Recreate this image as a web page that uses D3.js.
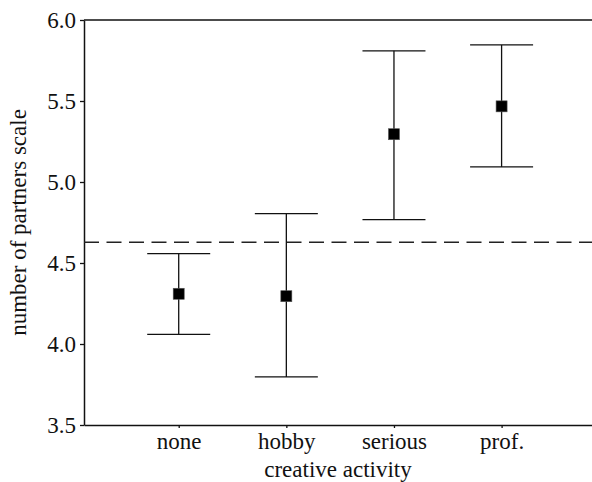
<!DOCTYPE html>
<html>
<head>
<meta charset="utf-8">
<script src="https://cdn.jsdelivr.net/npm/d3@7"></script>
<style>
  body { margin: 0; background: #fff; }
</style>
</head>
<body>
<div id="chart"></div>
<script>
const categories = ["none", "hobby", "serious", "prof."];
const means = [4.31, 4.295, 5.295, 5.467];
const upper = [4.558, 4.805, 5.81, 5.846];
const lower = [4.06, 3.797, 4.768, 5.093];
const reference = 4.628;
const yTicks = [3.5, 4.0, 4.5, 5.0, 5.5, 6.0];

const serif = "Liberation Serif, DejaVu Serif, serif";
const width = 592;
const height = 482;
const margin = {top: 20, right: 0, bottom: 57, left: 84};
const chartWidth = width - margin.left - margin.right;
const chartHeight = height - margin.top - margin.bottom;

const svg = d3.select("#chart").append("svg").attr("width", width).attr("height", height);
const g = svg.append("g").attr("transform", `translate(${margin.left},${margin.top})`);

const x_scale = d3.scaleLinear().domain([-0.88, 3.84]).range([0, chartWidth]);
const y_scale = d3.scaleLinear().domain([3.5, 6.0]).range([chartHeight, 0]);

// frame top line
g.append("line")
    .attr("x1", 0).attr("x2", chartWidth)
    .attr("y1", 0).attr("y2", 0)
    .attr("stroke", "#111").attr("stroke-width", 1.5);

// axes
const y_axis = d3.axisLeft(y_scale).tickValues(yTicks).tickFormat(d3.format(".1f")).tickSize(4).tickSizeOuter(0);
const yg = g.append("g").call(y_axis).attr("font-family", serif).attr("font-size", 23);
yg.select(".domain").attr("stroke", "#111").attr("stroke-width", 1.5);
yg.selectAll(".tick line").attr("stroke", "#111").attr("stroke-width", 1.3);
yg.selectAll(".tick text").attr("x", -8).attr("dy", "0.34em").attr("fill", "#111");

const x_axis = d3.axisBottom(x_scale).tickValues(d3.range(categories.length))
    .tickFormat(i => categories[i]).tickSize(3).tickSizeOuter(0);
const xg = g.append("g").attr("transform", `translate(0,${chartHeight})`).call(x_axis)
    .attr("font-family", serif).attr("font-size", 23);
xg.select(".domain").attr("stroke", "#111").attr("stroke-width", 1.5);
xg.selectAll(".tick line").attr("stroke", "#111").attr("stroke-width", 1.3);
xg.selectAll(".tick text").attr("y", 8).attr("fill", "#111");

// reference dashed line
g.append("line")
    .attr("x1", 0).attr("x2", chartWidth)
    .attr("y1", y_scale(reference)).attr("y2", y_scale(reference))
    .attr("stroke", "#222").attr("stroke-width", 1.3)
    .attr("stroke-dasharray", "15,7.5");

// error bars
const capHalf = 31.5;
const bars = g.selectAll(".bar").data(categories).enter().append("g").attr("class", "bar");
bars.append("line")
    .attr("x1", (d, i) => x_scale(i)).attr("x2", (d, i) => x_scale(i))
    .attr("y1", (d, i) => y_scale(upper[i])).attr("y2", (d, i) => y_scale(lower[i]))
    .attr("stroke", "#111").attr("stroke-width", 1.3);
bars.append("line")
    .attr("x1", (d, i) => x_scale(i) - capHalf).attr("x2", (d, i) => x_scale(i) + capHalf)
    .attr("y1", (d, i) => y_scale(upper[i])).attr("y2", (d, i) => y_scale(upper[i]))
    .attr("stroke", "#111").attr("stroke-width", 1.3);
bars.append("line")
    .attr("x1", (d, i) => x_scale(i) - capHalf).attr("x2", (d, i) => x_scale(i) + capHalf)
    .attr("y1", (d, i) => y_scale(lower[i])).attr("y2", (d, i) => y_scale(lower[i]))
    .attr("stroke", "#111").attr("stroke-width", 1.3);

// mean markers
const size = 11;
bars.append("rect")
    .attr("x", (d, i) => x_scale(i) - size / 2)
    .attr("y", (d, i) => y_scale(means[i]) - size / 2)
    .attr("width", size).attr("height", size)
    .attr("fill", "#000").attr("stroke", "#555").attr("stroke-width", 0.6);

// axis labels
g.append("text")
    .attr("x", chartWidth / 2)
    .attr("y", chartHeight + 52)
    .attr("text-anchor", "middle")
    .attr("font-family", serif).attr("font-size", 23).attr("fill", "#111")
    .text("creative activity");

g.append("text")
    .attr("transform", "rotate(-90)")
    .attr("x", -chartHeight / 2)
    .attr("y", -58)
    .attr("text-anchor", "middle")
    .attr("font-family", serif).attr("font-size", 23).attr("fill", "#111")
    .text("number of partners scale");
</script>
</body>
</html>
